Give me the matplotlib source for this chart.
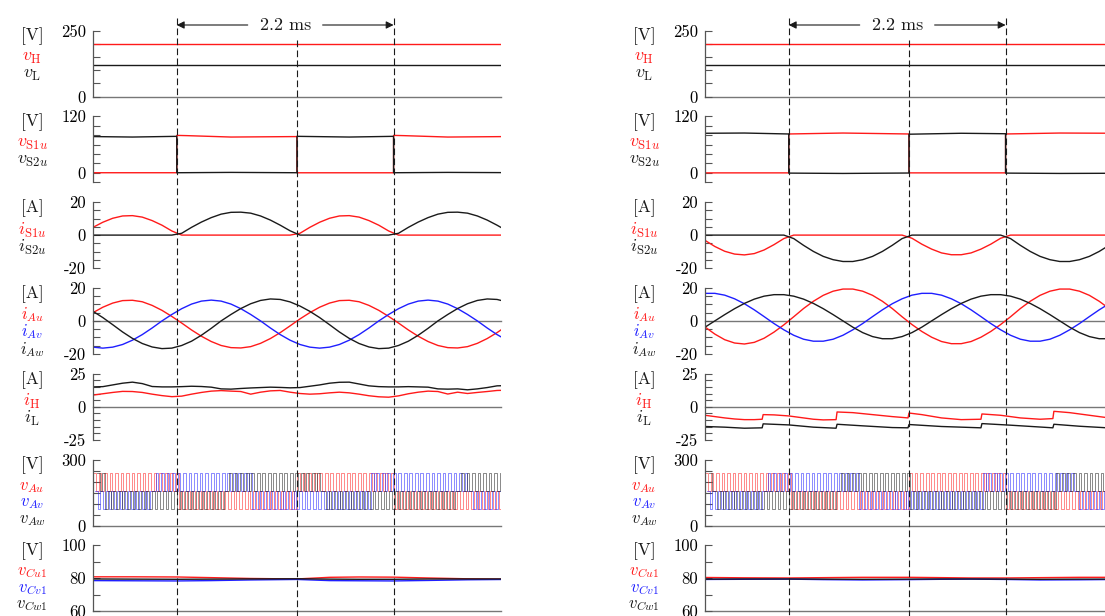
import numpy as np
import matplotlib.pyplot as plt
from matplotlib.lines import Line2D
from matplotlib.transforms import blended_transform_factory

plt.rcParams['mathtext.fontset'] = 'cm'
plt.rcParams['font.family'] = ['cmr10', 'DejaVu Serif']
plt.rcParams['axes.unicode_minus'] = False

RED = '#ff1a1a'
BLUE = '#1f1fff'
BLACK = '#1a1a1a'
GREY = '#555555'

# time grid [ms], 0.1 ms steps
t = np.round(np.arange(0, 4.25, 0.1), 1)

# ---- left column ----
vH_L = [200, 200]
vL_L = [120, 120]
t_vdc = [0, 4.2]

t_vS1u_L = [0, 0.85, 0.85, 0.95, 1.4, 2.07, 2.07, 3.05, 3.05, 3.15, 3.6, 4.2]
vS1u_L = [0.3, 0.3, 79.5, 79, 76, 77, 0.2, 0.2, 79.5, 79, 76, 77]
t_vS2u_L = [0, 0.4, 0.85, 0.85, 1.4, 2.07, 2.07, 2.6, 3.05, 3.05, 3.6, 4.2]
vS2u_L = [77, 76, 77.5, 0.3, 1.0, 0.3, 77.5, 76, 77.5, 0.3, 1.0, 0.5]

iS1u_L = [4.7, 7.8, 10.2, 11.6, 11.8, 10.9, 8.8, 6.0, 2.5, 0,
          0, 0, 0, 0, 0, 0, 0, 0, 0, 0, 0,
          1.1, 4.7, 7.8, 10.2, 11.6, 11.8, 10.9, 8.8, 6.0, 2.5,
          0, 0, 0, 0, 0, 0, 0, 0, 0, 0, 0, 0]
iS2u_L = [0, 0, 0, 0, 0, 0, 0, 0, 0,
          1.1, 4.7, 7.9, 10.6, 12.7, 13.8, 13.9, 13.3, 11.6, 9.1, 6.0, 2.6,
          0, 0, 0, 0, 0, 0, 0, 0, 0, 0,
          1.1, 4.7, 7.9, 10.6, 12.7, 13.8, 13.9, 13.3, 11.6, 9.1, 6.0, 2.6]

iAu_L = [5.0, 8.3, 10.8, 12.3, 12.5, 11.6, 9.4, 6.4, 2.7, -1.3, -5.5, -9.3,
         -12.5, -14.9, -16.2, -16.4, -15.6, -13.6, -10.7, -7.1, -3.0, 1.2,
         5.0, 8.3, 10.8, 12.3, 12.5, 11.6, 9.4, 6.4, 2.7, -1.3, -5.5, -9.3,
         -12.5, -14.9, -16.2, -16.4, -15.6, -13.6, -10.7, -7.1, -3.0]
iAv_L = [-15.9, -16.5, -15.9, -14.3, -11.7, -8.3, -4.3, 0.0, 3.9, 7.4, 10.2,
         12.0, 12.6, 12.0, 10.2, 7.4, 3.9, 0.0, -4.3, -8.3, -11.7, -14.3,
         -15.9, -16.5, -15.9, -14.3, -11.7, -8.3, -4.3, 0.0, 3.9, 7.4, 10.2,
         12.0, 12.6, 12.0, 10.2, 7.4, 3.9, 0.0, -4.3, -8.3, -11.7]
iAw_L = [5.8, 2.0, -2.3, -6.7, -10.6, -13.7, -15.8, -16.8, -16.5, -14.9, -12.3,
         -8.7, -4.5, 0.0, 3.9, 7.5, 10.4, 12.4, 13.3, 13.0, 11.5, 9.0, 5.8,
         2.0, -2.3, -6.7, -10.6, -13.7, -15.8, -16.8, -16.5, -14.9, -12.3,
         -8.7, -4.5, 0.0, 3.9, 7.5, 10.4, 12.4, 13.3, 13.0, 11.5]

iH_L = [8.8, 9.8, 10.8, 11.6, 11.5, 10.8, 9.5, 8.4, 7.6, 8.0, 9.5, 10.8, 11.8,
        12.2, 11.8, 11.5, 9.5, 11.0, 12.0, 12.3, 11.0, 10.0, 9.5, 9.8, 10.5,
        11.0, 10.5, 9.5, 8.3, 7.5, 7.2, 8.2, 9.8, 11.0, 11.8, 11.5, 9.6, 11.0,
        10.0, 10.8, 11.5, 12.3, 12.5]
iL_L = [15.0, 15.2, 16.5, 17.8, 18.6, 17.5, 15.3, 15.0, 15.0, 15.2, 15.5, 15.3,
        14.8, 13.5, 13.3, 13.8, 14.2, 14.5, 14.8, 14.6, 14.3, 14.5, 15.5, 16.5,
        17.8, 18.5, 18.6, 17.2, 15.8, 15.2, 15.0, 15.0, 15.2, 15.0, 14.8, 13.5,
        13.3, 13.5, 12.8, 13.5, 14.5, 15.8, 16.0]

# arm voltages: band edges [ms] and band (1 = upper, 0 = lower)
pwm_levels = [75, 155, 240]
pwm_period = 0.056
u_edges_L, u_bands_L = [0, 0.85, 2.07, 3.05, 4.2], [1, 0, 1, 0]
v_edges_L, v_bands_L = [0, 0.6, 1.6, 2.8, 3.8, 4.2], [0, 1, 0, 1, 0]
w_edges_L, w_bands_L = [0, 0.12, 1.35, 2.32, 3.7, 4.2], [1, 0, 1, 0, 1]

t_vc = [0, 0.4, 0.85, 1.2, 1.6, 2.07, 2.4, 2.7, 3.05, 3.4, 3.8, 4.2]
vCu1_L = [80.9, 80.9, 80.8, 80.4, 79.9, 79.6, 80.6, 80.8, 80.7, 80.2, 79.7, 79.5]
vCv1_L = [78.6, 78.5, 78.4, 78.6, 79.0, 79.3, 78.6, 78.5, 78.4, 78.7, 79.1, 79.3]
vCw1_L = [79.6, 79.5, 79.4, 79.5, 79.6, 79.7, 79.5, 79.4, 79.4, 79.6, 79.6, 79.6]

# ---- right column ----
vH_R = [200, 200]
vL_R = [120, 120]

t_vS1u_R = [0, 0.85, 0.85, 1.4, 2.07, 2.07, 3.05, 3.05, 3.6, 4.2]
vS1u_R = [0, 0, 82.5, 84.5, 82.5, 0, 0, 82.5, 84.5, 84]
t_vS2u_R = [0, 0.4, 0.85, 0.85, 1.4, 2.07, 2.07, 2.6, 3.05, 3.05, 3.6, 4.2]
vS2u_R = [84, 84.5, 82.5, -0.5, -1.2, -0.3, 82, 84, 83, -0.5, -1.2, -0.8]

iS1u_R = [-3.2, -6.9, -9.8, -11.5, -12.0, -11.2, -9.0, -5.8, -2.1,
          0, 0, 0, 0, 0, 0, 0, 0, 0, 0, 0, 0,
          -1.9, -5.5, -8.5, -10.8, -11.9, -11.9, -10.8, -8.5, -5.5, -1.9,
          0, 0, 0, 0, 0, 0, 0, 0, 0, 0, 0, 0]
iS2u_R = [0, 0, 0, 0, 0, 0, 0, 0, 0,
          -2.1, -6.2, -9.9, -12.9, -14.9, -16.0, -16.0, -14.9, -12.9, -9.9, -6.2, -2.1,
          0, 0, 0, 0, 0, 0, 0, 0, 0, 0,
          -2.1, -6.2, -9.9, -12.9, -14.9, -16.0, -16.0, -14.9, -12.9, -9.9, -6.2, -2.1]

iAu_R = [-3.7, -8.0, -11.4, -13.4, -14.0, -13.0, -10.5, -6.8, -2.4, 2.5, 7.5,
         11.9, 15.5, 18.0, 19.3, 19.3, 18.0, 15.5, 11.9, 7.5, 2.5, -2.2, -6.4,
         -9.9, -12.5, -13.8, -13.8, -12.5, -9.9, -6.4, -2.2, 2.5, 7.5, 11.9,
         15.5, 18.0, 19.3, 19.3, 18.0, 15.5, 11.9, 7.5, 2.5]
iAv_R = [16.7, 16.7, 15.6, 13.4, 10.4, 6.7, 2.6, -1.6, -5.4, -8.7, -11.1, -12.3,
         -12.3, -11.1, -8.7, -5.4, -1.6, 2.6, 6.7, 10.4, 13.4, 15.6, 16.7, 16.7,
         15.6, 13.4, 10.4, 6.7, 2.6, -1.6, -5.4, -8.7, -11.1, -12.3, -12.3,
         -11.1, -8.7, -5.4, -1.6, 2.6, 6.7, 10.4, 13.4]
iAw_R = [-3.8, 0.0, 3.8, 7.4, 10.6, 13.2, 15.0, 15.9, 15.9, 15.0, 13.2, 10.6,
         7.4, 3.8, 0.0, -3.8, -7.1, -9.5, -10.8, -10.8, -9.5, -7.1, -3.8, 0.0,
         3.8, 7.4, 10.6, 13.2, 15.0, 15.9, 15.9, 15.0, 13.2, 10.6, 7.4, 3.8,
         0.0, -3.8, -7.1, -9.5, -10.8, -10.8, -9.5]

t_iH_R = [0, 0.1, 0.2, 0.3, 0.4, 0.5, 0.58, 0.59, 0.7, 0.85, 1.0, 1.1, 1.2, 1.33,
          1.34, 1.5, 1.7, 1.9, 2.06, 2.07, 2.2, 2.4, 2.6, 2.8, 2.81, 3.0, 3.2,
          3.4, 3.53, 3.54, 3.7, 3.9, 4.1, 4.2]
iH_R = [-6.5, -7.5, -8.5, -9.3, -9.8, -9.8, -9.5, -6.0, -6.2, -7.0, -8.5, -9.5,
        -10.0, -9.8, -4.0, -4.5, -6.0, -7.5, -8.5, -4.8, -6.0, -8.5, -9.8, -9.5,
        -5.5, -6.5, -8.5, -9.5, -9.0, -3.5, -4.5, -6.5, -8.5, -9.0]
t_iL_R = [0, 0.2, 0.4, 0.58, 0.59, 0.85, 1.1, 1.33, 1.34, 1.6, 1.9, 2.06, 2.07,
          2.4, 2.8, 2.81, 3.1, 3.53, 3.54, 3.8, 4.2]
iL_R = [-15.0, -15.5, -16.3, -16.0, -13.0, -13.8, -15.5, -16.3, -13.3, -14.5,
        -15.8, -16.0, -13.5, -15.0, -16.0, -12.8, -14.0, -16.0, -13.3, -14.8, -16.5]

u_edges_R, u_bands_R = [0, 0.85, 2.07, 3.05, 4.2], [1, 0, 1, 0]
v_edges_R, v_bands_R = [0, 0.59, 1.54, 2.8, 3.75, 4.2], [0, 1, 0, 1, 0]
w_edges_R, w_bands_R = [0, 0.08, 1.34, 2.07, 3.54, 4.2], [1, 0, 1, 0, 1]

vCu1_R = [80.5, 80.3, 80.2, 80.4, 80.6, 80.6, 80.4, 80.2, 80.2, 80.4, 80.6, 80.6]
vCv1_R = [79.3, 79.4, 79.5, 79.2, 79.0, 79.2, 79.4, 79.5, 79.3, 79.0, 79.1, 79.3]
vCw1_R = [79.5, 79.6, 79.6, 79.5, 79.4, 79.5, 79.6, 79.6, 79.5, 79.4, 79.5, 79.5]

dash_t = [0.85, 2.07, 3.05]


def pwm(edges, bands, shift):
    # square wave switching inside the band read for each interval
    half = pwm_period / 2
    tt, vv = [], []
    j = 0
    tk = shift
    while tk < edges[-1]:
        k = np.searchsorted(edges, tk, side='right') - 1
        k = min(max(k, 0), len(bands) - 1)
        lo, hi = (pwm_levels[1], pwm_levels[2]) if bands[k] else (pwm_levels[0], pwm_levels[1])
        tt.append(tk)
        vv.append(hi if j % 2 == 0 else lo)
        j += 1
        tk += half
    return tt, vv


W, H = 1105, 616
col_x = [93, 705]
ax_w, ax_h = 408, 66
tops = [30.5 + 85.8 * k for k in range(7)]

ylims = [(0, 250), (-20, 120), (-20, 20), (-20, 20), (-25, 25), (0, 300), (60, 100)]
ysteps = [50, 20, 5, 5, 5, 50, 10]
ylab = [[0, 250], [0, 120], [-20, 0, 20], [-20, 0, 20], [-25, 0, 25], [0, 300], [60, 80, 100]]
refline = [0, None, None, 0, 0, 0, 60]
units = ['[V]', '[V]', '[A]', '[A]', '[A]', '[V]', '[V]']
names = [
    [(r'$v_{\mathrm{H}}$', RED), (r'$v_{\mathrm{L}}$', BLACK)],
    [(r'$v_{\mathrm{S1}u}$', RED), (r'$v_{\mathrm{S2}u}$', BLACK)],
    [(r'$i_{\mathrm{S1}u}$', RED), (r'$i_{\mathrm{S2}u}$', BLACK)],
    [(r'$i_{Au}$', RED), (r'$i_{Av}$', BLUE), (r'$i_{Aw}$', BLACK)],
    [(r'$i_{\mathrm{H}}$', RED), (r'$i_{\mathrm{L}}$', BLACK)],
    [(r'$v_{Au}$', RED), (r'$v_{Av}$', BLUE), (r'$v_{Aw}$', BLACK)],
    [(r'$v_{Cu1}$', RED), (r'$v_{Cv1}$', BLUE), (r'$v_{Cw1}$', BLACK)],
]
label_offs = [[28, 45], [28, 45], [28, 45], [26.5, 44, 61.5], [28, 45],
              [27.5, 44, 60.5], [27.5, 44, 60.5]]

fig = plt.figure(figsize=(11.05, 6.16), dpi=100)

cols = []
for c in range(2):
    axes = []
    for k in range(7):
        ax = fig.add_axes([col_x[c] / W, 1 - (tops[k] + ax_h) / H, ax_w / W, ax_h / H])
        ax.set_xlim(0, 4.14)
        ax.set_ylim(*ylims[k])
        ticks = np.arange(ylims[k][0], ylims[k][1] + 0.1, ysteps[k])
        labels = [str(int(v)) if v in ylab[k] else '' for v in ticks]
        ax.set_yticks(ticks, labels)
        ax.set_xticks([])
        for s in ['top', 'right', 'bottom']:
            ax.spines[s].set_visible(False)
        ax.spines['left'].set_color(GREY)
        ax.spines['left'].set_linewidth(0.9)
        ax.tick_params(axis='y', direction='in', length=5, width=0.8, color=GREY,
                       pad=5, labelsize=12)
        ax.patch.set_visible(False)
        if refline[k] is not None:
            ax.axhline(refline[k], color='#777777', lw=1.0, clip_on=False, zorder=1)
        # labels at the left
        xc = (col_x[c] - 61) / W
        fig.text(xc, 1 - (tops[k] + 6) / H, units[k], ha='center', va='center',
                 fontsize=12.5, color=BLACK)
        fs = 12 if len(names[k]) == 3 else 13
        for (txt, colr), o in zip(names[k], label_offs[k]):
            fig.text(xc, 1 - (tops[k] + o) / H, txt, ha='center', va='center',
                     fontsize=fs, color=colr)
        axes.append(ax)
    cols.append(axes)

lw = 1.0
for c, side in enumerate(['L', 'R']):
    a = cols[c]
    g = globals()
    a[0].plot(t_vdc, g['vH_' + side], color=RED, lw=lw)
    a[0].plot(t_vdc, g['vL_' + side], color=BLACK, lw=lw)

    a[1].plot(g['t_vS1u_' + side], g['vS1u_' + side], color=RED, lw=lw)
    a[1].plot(g['t_vS2u_' + side], g['vS2u_' + side], color=BLACK, lw=lw)

    a[2].plot(t, g['iS1u_' + side], color=RED, lw=lw)
    a[2].plot(t, g['iS2u_' + side], color=BLACK, lw=lw)

    a[3].plot(t, g['iAu_' + side], color=RED, lw=lw)
    a[3].plot(t, g['iAv_' + side], color=BLUE, lw=lw)
    a[3].plot(t, g['iAw_' + side], color=BLACK, lw=lw)

    if side == 'L':
        a[4].plot(t, iH_L, color=RED, lw=lw)
        a[4].plot(t, iL_L, color=BLACK, lw=lw)
    else:
        a[4].plot(t_iH_R, iH_R, color=RED, lw=lw)
        a[4].plot(t_iL_R, iL_R, color=BLACK, lw=lw)

    for ph, colr, sh in [('u', RED, 0.0), ('v', BLUE, 0.019), ('w', BLACK, 0.038)]:
        tt, vv = pwm(g[ph + '_edges_' + side], g[ph + '_bands_' + side], sh)
        a[5].step(tt, vv, where='post', color=colr, lw=0.6, alpha=0.6)

    a[6].plot(t_vc, g['vCu1_' + side], color=RED, lw=lw)
    a[6].plot(t_vc, g['vCv1_' + side], color=BLUE, lw=lw)
    a[6].plot(t_vc, g['vCw1_' + side], color=BLACK, lw=lw)

    # dashed markers and the 2.2 ms arrow
    tr = blended_transform_factory(a[0].transData, fig.transFigure)
    for i, td in enumerate(dash_t):
        ytop = 1 - (40 if i == 1 else 18) / H
        fig.add_artist(Line2D([td, td], [ytop, 0], transform=tr, color=BLACK,
                              lw=0.8, ls=(0, (6, 3))))
    ya = 1 - 25 / H
    a[0].annotate('', xy=(dash_t[0], ya), xytext=(1.57, ya), xycoords=tr, textcoords=tr,
                  arrowprops=dict(arrowstyle='-|>', color=BLACK, lw=0.8,
                                  shrinkA=0, shrinkB=0, mutation_scale=11),
                  annotation_clip=False)
    a[0].annotate('', xy=(dash_t[2], ya), xytext=(2.33, ya), xycoords=tr, textcoords=tr,
                  arrowprops=dict(arrowstyle='-|>', color=BLACK, lw=0.8,
                                  shrinkA=0, shrinkB=0, mutation_scale=11),
                  annotation_clip=False)
    fig.text(1.95, ya, '2.2 ms', transform=tr, ha='center', va='center',
             fontsize=13, color=BLACK)

fig.savefig('out.png', dpi=100)
